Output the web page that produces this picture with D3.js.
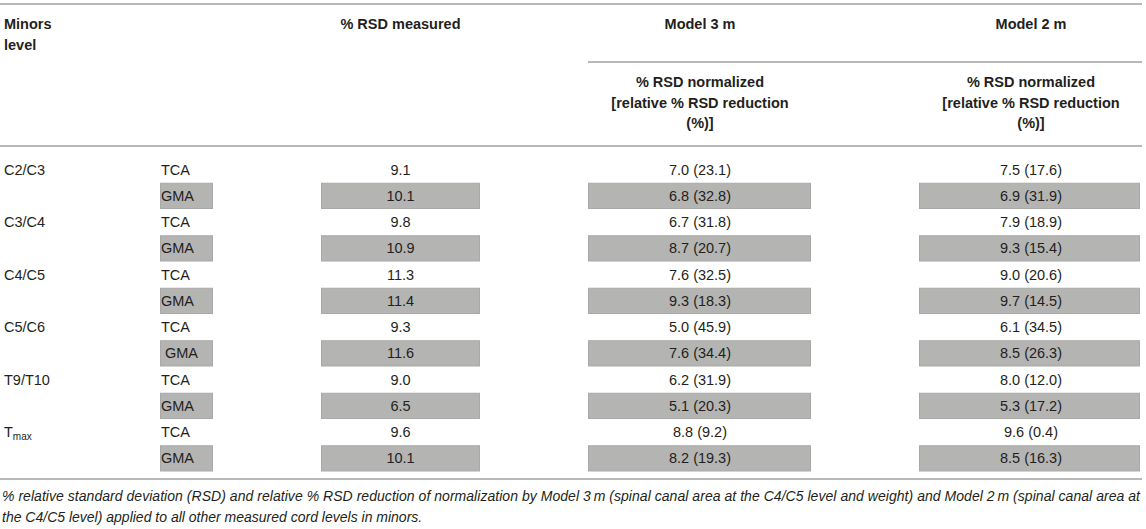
<!DOCTYPE html>
<html>
<head>
<meta charset="utf-8">
<script src="https://cdn.jsdelivr.net/npm/d3@7"></script>
<style>
  html, body { margin: 0; padding: 0; background: #fff; }
  #table-fig { width: 1146px; height: 529px; }
</style>
</head>
<body>
<div id="table-fig"></div>
<script>
(function () {
  'use strict';

  // --- table data (row order: TCA, GMA per level) ---
  const LEVELS = ['C2/C3', 'C3/C4', 'C4/C5', 'C5/C6', 'T9/T10', 'Tmax'];
  const MEASURES = ['TCA', 'GMA'];
  const RSD_MEASURED = [9.1, 10.1, 9.8, 10.9, 11.3, 11.4, 9.3, 11.6, 9.0, 6.5, 9.6, 10.1];
  const M3_NORM = [7.0, 6.8, 6.7, 8.7, 7.6, 9.3, 5.0, 7.6, 6.2, 5.1, 8.8, 8.2];
  const M3_RED  = [23.1, 32.8, 31.8, 20.7, 32.5, 18.3, 45.9, 34.4, 31.9, 20.3, 9.2, 19.3];
  const M2_NORM = [7.5, 6.9, 7.9, 9.3, 9.0, 9.7, 6.1, 8.5, 8.0, 5.3, 9.6, 8.5];
  const M2_RED  = [17.6, 31.9, 18.9, 15.4, 20.6, 14.5, 34.5, 26.3, 12.0, 17.2, 0.4, 16.3];

  const HEADERS = ['% RSD measured', 'Model 3 m', 'Model 2 m'];
  const SUBHEAD = ['% RSD normalized', '[relative % RSD reduction', '(%)]'];
  const FOOTNOTE = [
    '% relative standard deviation (RSD) and relative % RSD reduction of normalization by Model 3\u2009m (spinal canal area at the C4/C5 level and weight) and Model 2\u2009m (spinal canal area at',
    'the C4/C5 level) applied to all other measured cord levels in minors.'
  ];

  const W = 1146, H = 529;
  const INK = '#231f20';
  const RULE = '#b8b8b8';
  const SHADE = '#b4b4b3';
  const FONT = '"Liberation Sans", Arial, Helvetica, sans-serif';
  const fmt = d3.format('.1f');

  // rows: one per level x measure
  const rows = [];
  LEVELS.forEach((lv, i) => {
    MEASURES.forEach((m, j) => {
      const k = i * 2 + j;
      rows.push({
        level: j === 0 ? lv : null, measure: m, shaded: j === 1,
        measured: fmt(RSD_MEASURED[k]),
        m3: `${fmt(M3_NORM[k])} (${fmt(M3_RED[k])})`,
        m2: `${fmt(M2_NORM[k])} (${fmt(M2_RED[k])})`
      });
    });
  });

  // column extents (left, right) of the shaded cells
  const COLS = {
    measure: [160, 213],
    measured: [321, 480],
    m3: [588, 811],
    m2: [919, 1140]
  };
  const mid = c => (COLS[c][0] + COLS[c][1]) / 2;

  const y = d3.scaleBand()
    .domain(d3.range(rows.length))
    .range([156.5, 471.5])
    .paddingInner(0);

  const svg = d3.select('#table-fig').append('svg')
    .attr('width', W).attr('height', H)
    .attr('viewBox', `0 0 ${W} ${H}`)
    .style('font-family', FONT);

  const rule = (x1, x2, yy) => svg.append('line')
    .attr('x1', x1).attr('x2', x2).attr('y1', yy).attr('y2', yy)
    .attr('stroke', RULE).attr('stroke-width', 2);

  rule(0, 1142, 4);
  rule(588, 1142, 62);
  rule(0, 1142, 146);
  rule(0, 1142, 479);

  // --- header ---
  const head = svg.append('g').attr('fill', INK)
    .attr('font-weight', 'bold').attr('font-size', 14.5);

  head.append('text').attr('x', 4).attr('y', 29).text('Minors');
  head.append('text').attr('x', 4).attr('y', 50).text('level');

  head.append('text').attr('x', mid('measured')).attr('y', 29)
    .attr('text-anchor', 'middle').text(HEADERS[0]);
  head.append('text').attr('x', 700).attr('y', 29)
    .attr('text-anchor', 'middle').text(HEADERS[1]);
  head.append('text').attr('x', 1031).attr('y', 29)
    .attr('text-anchor', 'middle').text(HEADERS[2]);

  [700, 1031].forEach(cx => {
    SUBHEAD.forEach((t, i) => {
      head.append('text').attr('x', cx).attr('y', 87 + i * 20.5)
        .attr('text-anchor', 'middle').text(t);
    });
  });

  // --- body ---
  const body = svg.append('g');
  const rowG = body.selectAll('g.row').data(rows).join('g')
    .attr('class', 'row')
    .attr('transform', (d, i) => `translate(0,${y(i)})`);

  ['measure', 'measured', 'm3', 'm2'].forEach(c => {
    rowG.filter(d => d.shaded).append('rect')
      .attr('x', COLS[c][0] + 0.5).attr('y', 0.5)
      .attr('width', COLS[c][1] - COLS[c][0] - 1)
      .attr('height', y.bandwidth() - 1)
      .attr('fill', SHADE).attr('stroke', '#a9a9a8').attr('stroke-width', 1);
  });

  const cellText = sel => sel.attr('y', y.bandwidth() / 2 + 5)
    .attr('fill', INK).attr('font-size', 14.5);

  rowG.filter(d => d.level).append('text').call(cellText)
    .attr('x', 4)
    .each(function (d) {
      const t = d3.select(this);
      if (d.level === 'Tmax') {
        t.append('tspan').text('T');
        t.append('tspan').attr('font-size', 10).attr('dy', 3).text('max');
      } else {
        t.text(d.level);
      }
    });

  rowG.append('text').call(cellText)
    .attr('x', (d, i) => COLS.measure[0] + (i === 7 ? 5 : 1))
    .text(d => d.measure);

  rowG.append('text').call(cellText)
    .attr('x', mid('measured')).attr('text-anchor', 'middle')
    .text(d => d.measured);
  rowG.append('text').call(cellText)
    .attr('x', 700).attr('text-anchor', 'middle')
    .text(d => d.m3);
  rowG.append('text').call(cellText)
    .attr('x', 1031).attr('text-anchor', 'middle')
    .text(d => d.m2);

  // --- footnote ---
  FOOTNOTE.forEach((t, i) => {
    const el = svg.append('text')
      .attr('x', 2).attr('y', 501 + i * 21)
      .attr('fill', INK).attr('font-size', 14)
      .attr('font-style', 'italic')
      .text(t);
    if (i === 0) el.attr('textLength', 1138).attr('lengthAdjust', 'spacing');
  });
})();
</script>
</body>
</html>
